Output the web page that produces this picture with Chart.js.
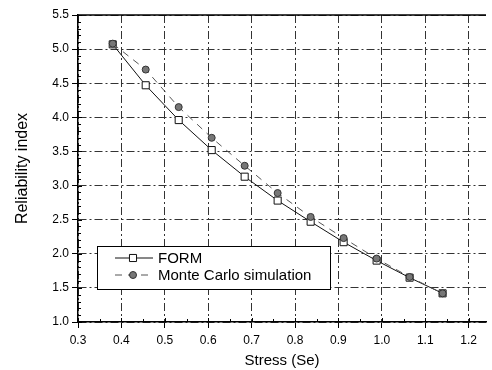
<!DOCTYPE html>
<html>
<head>
<meta charset="utf-8">
<script src="https://cdn.jsdelivr.net/npm/chart.js@4.4.0/dist/chart.umd.min.js"></script>
<style>
  html, body { margin: 0; padding: 0; background: #fff; }
  #baseGrafica { width: 492px; height: 370px; }
</style>
</head>
<body>
<div id="baseGrafica"><canvas id="graficaFiabilidad"></canvas></div>
<script>
/* DATOS */
const stress = [0.38, 0.456, 0.532, 0.608, 0.684, 0.76, 0.836, 0.912, 0.988, 1.064, 1.14];
const valoresForm = [5.07, 4.47, 3.96, 3.52, 3.13, 2.78, 2.47, 2.17, 1.90, 1.65, 1.42];
const valoresMonteCarlo = [5.08, 4.70, 4.15, 3.70, 3.29, 2.89, 2.54, 2.23, 1.93, 1.66, 1.42];
const nombresSeries = ['FORM', 'Monte Carlo simulation'];
const tituloX = 'Stress (Se)';
const tituloY = 'Reliability index';
const rangoX = [0.3, 1.24];
const rangoY = [1.0, 5.5];

const fuente = "'Liberation Sans', Arial, sans-serif";

function aPuntos(xs, ys) {
  return xs.map((x, i) => ({ x: x, y: ys[i] }));
}

/* marco superior y ticks menores hacia dentro */
const marcoPlugin = {
  id: 'marco',
  afterDatasetsDraw(chart) {
    const ctx = chart.ctx;
    const area = chart.chartArea;
    const ejeX = chart.scales.x;
    const ejeY = chart.scales.y;
    ctx.save();
    ctx.strokeStyle = '#000';
    ctx.lineWidth = 1.5;
    ctx.beginPath();
    ctx.moveTo(area.left, area.top);
    ctx.lineTo(area.right, area.top);
    ctx.stroke();

    ctx.lineWidth = 1;
    ctx.beginPath();
    for (let v = rangoX[0]; v <= rangoX[1] + 1e-9; v += 0.05) {
      const px = Math.round(ejeX.getPixelForValue(v)) + 0.5;
      const mayor = Math.abs(v * 10 - Math.round(v * 10)) < 1e-6;
      ctx.moveTo(px, area.bottom);
      ctx.lineTo(px, area.bottom - (mayor ? 4 : 3));
    }
    for (let v = rangoY[0]; v <= rangoY[1] + 1e-9; v += 0.1) {
      const py = Math.round(ejeY.getPixelForValue(v)) + 0.5;
      const mayor = Math.abs(v * 2 - Math.round(v * 2)) < 1e-6;
      ctx.moveTo(area.left, py);
      ctx.lineTo(area.left + (mayor ? 4 : 3), py);
    }
    ctx.stroke();
    ctx.restore();
  }
};

/* leyenda dentro del area */
const leyendaPlugin = {
  id: 'leyendaDentro',
  afterDraw(chart) {
    const ctx = chart.ctx;
    const area = chart.chartArea;
    const izq = area.left + 19;
    const arriba = area.bottom - 76;
    const ancho = 233;
    const alto = 43;
    ctx.save();
    ctx.fillStyle = '#fff';
    ctx.fillRect(izq, arriba, ancho, alto);
    ctx.strokeStyle = '#000';
    ctx.lineWidth = 1;
    ctx.strokeRect(izq + 0.5, arriba + 0.5, ancho, alto);

    chart.data.datasets.forEach((ds, i) => {
      const fila = arriba + 12 + i * 17;
      ctx.strokeStyle = ds.borderColor;
      ctx.lineWidth = ds.borderWidth;
      ctx.setLineDash(ds.borderDash || []);
      ctx.beginPath();
      ctx.moveTo(izq + 18, fila);
      ctx.lineTo(izq + 56, fila);
      ctx.stroke();
      ctx.setLineDash([]);

      const cx = izq + 36;
      ctx.fillStyle = ds.pointBackgroundColor;
      ctx.strokeStyle = ds.pointBorderColor;
      ctx.lineWidth = 1;
      ctx.beginPath();
      if (ds.pointStyle === 'rect') {
        const lado = ds.pointRadius * Math.SQRT1_2;
        ctx.rect(cx - lado, fila - lado, lado * 2, lado * 2);
      } else {
        ctx.arc(cx, fila, ds.pointRadius, 0, Math.PI * 2);
      }
      ctx.fill();
      ctx.stroke();

      ctx.fillStyle = '#000';
      ctx.font = '15px ' + fuente;
      ctx.textBaseline = 'middle';
      ctx.fillText(ds.label, izq + 61, fila + 1);
    });
    ctx.restore();
  }
};

const grafica = document.querySelector('#graficaFiabilidad').getContext('2d');

new Chart(grafica, {
  type: 'line',
  data: {
    datasets: [{
      label: nombresSeries[0],
      data: aPuntos(stress, valoresForm),
      borderColor: '#111',
      borderWidth: 1,
      pointStyle: 'rect',
      pointRadius: 5,
      pointBackgroundColor: '#fff',
      pointBorderColor: '#111',
      pointBorderWidth: 1,
      tension: 0,
      order: 1
    }, {
      label: nombresSeries[1],
      data: aPuntos(stress, valoresMonteCarlo),
      borderColor: '#555',
      borderWidth: 1,
      borderDash: [7, 6],
      pointStyle: 'circle',
      pointRadius: 3.5,
      pointBackgroundColor: '#777',
      pointBorderColor: '#333',
      pointBorderWidth: 1,
      tension: 0,
      order: 0
    }]
  },
  options: {
    responsive: true,
    maintainAspectRatio: false,
    animation: false,
    layout: { padding: { left: 0, top: 15, right: 2, bottom: 0 } },
    plugins: {
      legend: { display: false },
      tooltip: { enabled: false }
    },
    scales: {
      x: {
        type: 'linear',
        min: rangoX[0],
        max: rangoX[1],
        afterFit(eje) { eje.height = 48; },
        ticks: {
          stepSize: 0.1,
          includeBounds: false,
          padding: 5,
          color: '#000',
          font: { size: 12, family: fuente },
          callback: v => v.toFixed(1)
        },
        grid: {
          color: '#333',
          lineWidth: 1,
          tickLength: 6,
          tickColor: '#000'
        },
        border: { display: true, color: '#000', width: 1.5, dash: [8, 3, 2, 3] },
        title: {
          display: true,
          text: tituloX,
          color: '#000',
          font: { size: 15, family: fuente },
          padding: { top: 0, bottom: 0 }
        }
      },
      y: {
        type: 'linear',
        min: rangoY[0],
        max: rangoY[1],
        afterFit(eje) { eje.width = 78; },
        ticks: {
          stepSize: 0.5,
          padding: 3,
          color: '#000',
          font: { size: 12, family: fuente },
          callback: v => v.toFixed(1)
        },
        grid: {
          color: '#333',
          lineWidth: 1,
          tickLength: 6,
          tickColor: '#000'
        },
        border: { display: true, color: '#000', width: 1.5, dash: [8, 3, 2, 3] },
        title: {
          display: true,
          text: tituloY,
          color: '#000',
          font: { size: 16, family: fuente },
          padding: { top: 13, bottom: 0 }
        }
      }
    }
  },
  plugins: [marcoPlugin, leyendaPlugin]
});
</script>
</body>
</html>
